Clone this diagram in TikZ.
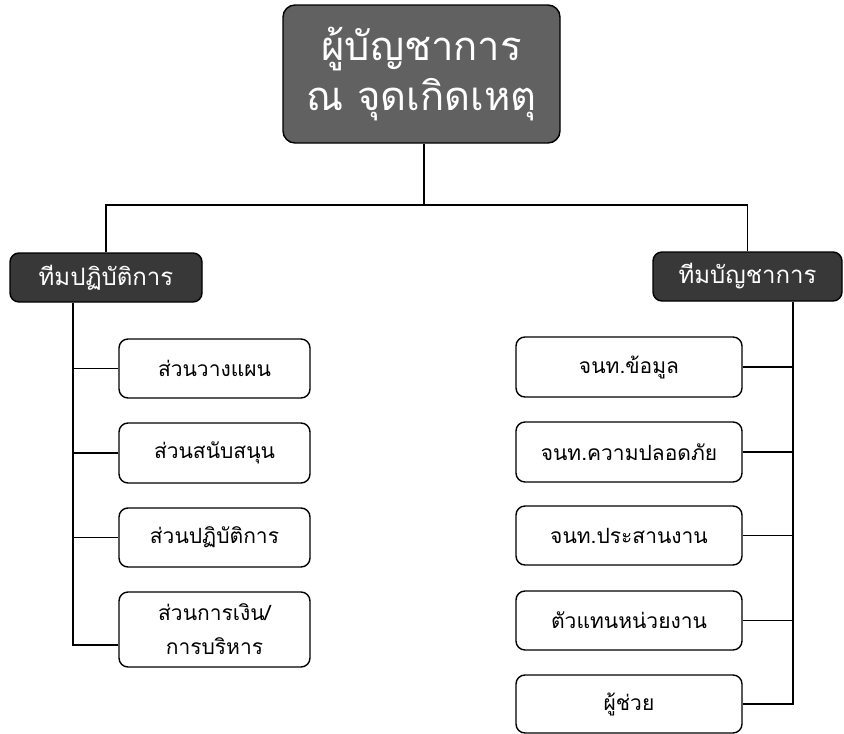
\documentclass[tikz,border=0pt]{standalone}
\usepackage{fontspec}
\newfontfamily\thaifont[Script=Thai]{Loma}
\begin{document}
\begin{tikzpicture}[x=1pt,y=-1pt,
  line width=1.4pt,
  head/.style={draw=black, fill=black!62, rounded corners=12pt, text=white, align=center,
     font=\thaifont\fontsize{40}{50}\selectfont, inner sep=0pt},
  team/.style={draw=black, fill=black!78, rounded corners=9pt, text=white, align=center,
     font=\thaifont\fontsize{24}{30}\selectfont, inner sep=0pt},
  unit/.style={draw=black, fill=white, rounded corners=9pt, align=center,
     font=\thaifont\fontsize{21}{34}\selectfont, inner sep=0pt},
  link/.style={draw=black, line width=1.1pt}]
\useasboundingbox (0,0) rectangle (844,734);
\node[head, minimum width=277pt, minimum height=138pt] (top) at (421.5,74) {ผู้บัญชาการ\\ณ จุดเกิดเหตุ};
\node[team, minimum width=192pt, minimum height=49pt] (lt) at (106,277.5) {ทีมปฏิบัติการ};
\node[team, minimum width=189pt, minimum height=49pt] (rt) at (747.5,276.5) {ทีมบัญชาการ};
% left units
\node[unit, minimum width=191pt, minimum height=59pt] (l1) at (214.5,368.5) {ส่วนวางแผน};
\node[unit, minimum width=191pt, minimum height=60pt] (l2) at (214.5,453) {ส่วนสนับสนุน};
\node[unit, minimum width=191pt, minimum height=59pt] (l3) at (214.5,537.5) {ส่วนปฏิบัติการ};
\node[unit, minimum width=191pt, minimum height=75pt] (l4) at (214.5,629.5) {ส่วนการเงิน/\\การบริหาร};
% right units
\node[unit, minimum width=226pt, minimum height=60pt] (r1) at (629,367) {จนท.ข้อมูล};
\node[unit, minimum width=226pt, minimum height=60pt] (r2) at (629,452) {จนท.ความปลอดภัย};
\node[unit, minimum width=226pt, minimum height=59pt] (r3) at (629,535.5) {จนท.ประสานงาน};
\node[unit, minimum width=226pt, minimum height=59pt] (r4) at (629,620.5) {ตัวแทนหน่วยงาน};
\node[unit, minimum width=226pt, minimum height=58pt] (r5) at (629,704) {ผู้ช่วย};
% connectors
\coordinate (j) at (424,205);
\draw[link] (top.south -| j) -- (j);
\draw[link] (lt.north) |- (j) -| (rt.north);
\coordinate (ls) at (73,0);
\coordinate (rs) at (793,0);
\coordinate (l4c) at ([yshift=-15.5pt]l4.west);
\draw[link] (ls |- lt.south) -- (ls |- l4c) -- (l4c);
\draw[link] (l1.west) -- (l1.west -| ls);
\draw[link] (l2.west) -- (l2.west -| ls);
\draw[link] (l3.west) -- (l3.west -| ls);
\draw[link] (rs |- rt.south) -- (rs |- r5.east) -- (r5.east);
\draw[link] (r1.east) -- (r1.east -| rs);
\draw[link] (r2.east) -- (r2.east -| rs);
\draw[link] (r3.east) -- (r3.east -| rs);
\draw[link] (r4.east) -- (r4.east -| rs);
\end{tikzpicture}
\end{document}
